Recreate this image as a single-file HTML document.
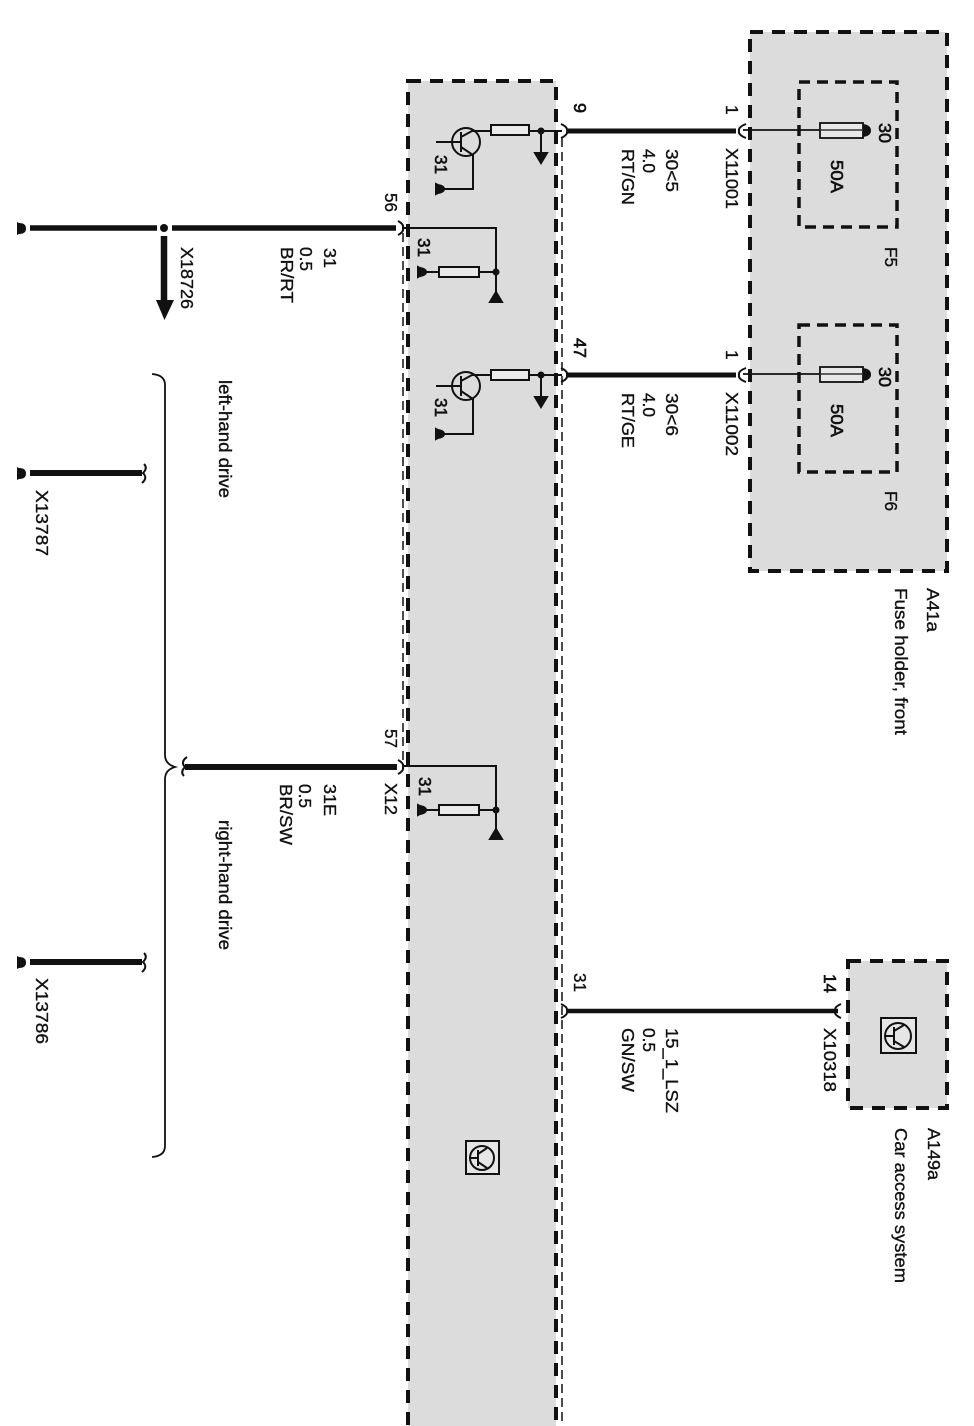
<!DOCTYPE html>
<html><head><meta charset="utf-8"><style>
html,body{margin:0;padding:0;background:#fff}
svg{display:block;filter:blur(.35px)}
text{font-family:"Liberation Sans",sans-serif;font-size:17.5px;fill:#111;stroke:#111;stroke-width:.35}
.b{stroke-width:.6}
</style></head><body>
<svg width="974" height="1426" viewBox="0 0 974 1426" xmlns="http://www.w3.org/2000/svg">
<rect width="974" height="1426" fill="#fff"/>
<!-- boxes -->
<g fill="#dcdcdc" stroke="#111" stroke-width="4" stroke-dasharray="13 9">
<rect x="750" y="32" width="197" height="539"/>
<rect x="408" y="81" width="148" height="1360"/>
<rect x="848" y="961" width="99" height="147"/>
</g>
<g fill="none" stroke="#111" stroke-width="3.5" stroke-dasharray="11 7">
<rect x="799" y="82" width="98" height="145"/>
<rect x="799" y="325" width="98" height="147"/>
</g>
<g stroke="#111" stroke-width="1.5" stroke-dasharray="9 5" fill="none">
<path d="M562 138V1426"/>
<path d="M403 233V760"/>
</g>
<!-- thick wires -->
<g stroke="#111" fill="none">
<path d="M567 131H736" stroke-width="5"/>
<path d="M567 375H736" stroke-width="5"/>
<path d="M30 228H157M172 228H396" stroke-width="5.5"/>
<path d="M30 473H142" stroke-width="6"/>
<path d="M30 962H142" stroke-width="6"/>
<path d="M185 767H397" stroke-width="6"/>
<path d="M567 1011H838" stroke-width="4.5"/>
<path d="M164 236V302" stroke-width="6.5"/>
</g>
<polygon points="156,300 174,300 164.500,320" fill="#111"/>
<circle cx="164" cy="228" r="4" fill="#111"/>
<!-- connector marks -->
<g stroke="#111" stroke-width="2" fill="none">
<path d="M746 124Q738 127 739 131Q738 135 746 138"/>
<path d="M746 368Q738 371 739 375Q738 379 746 382"/>
<path d="M561 124Q568 127 567 131Q568 135 561 138"/>
<path d="M561 368Q568 371 567 375Q568 379 561 382"/>
<path d="M398 221Q404 224 403 228Q404 232 398 235"/>
<path d="M398 760Q404 763 403 767Q404 771 398 774"/>
<path d="M561 1004Q568 1007 567 1011Q568 1015 561 1018"/>
<path d="M841 1004Q834 1007 835 1011Q834 1015 841 1018"/>
<path d="M144 464Q148 468 143 473Q148 478 142 483"/>
<path d="M144 953Q148 957 143 962Q148 967 142 972"/>
<path d="M187 757Q180 762 185 767Q180 772 184 776"/>
</g>
<!-- brace -->
<path d="M152 374Q165 375 165 385V755Q165 764 175 767Q165 770 165 779V1146Q165 1156 152 1157" fill="none" stroke="#111" stroke-width="1.800"/>
<!-- left terminals -->
<g fill="#111">
<path d="M17 222L19 223Q26 223 26 228.500Q26 234 19 234L17 235Z"/>
<path d="M17 467L19 468Q26 468 26 473.500Q26 479 19 479L17 480Z"/>
<path d="M17 956L19 957Q26 957 26 962.500Q26 968 19 968L17 969Z"/>
</g>
<!-- fuses -->
<g>
<path d="M743 130H820M743 374H820" stroke="#111" stroke-width="1.800" fill="none"/>
<rect x="820" y="123" width="43" height="15" fill="#e8e8e8" stroke="#111" stroke-width="1.800"/>
<rect x="820" y="367" width="43" height="15" fill="#e8e8e8" stroke="#111" stroke-width="1.800"/>
<path d="M820 130H863M820 374H863" stroke="#333" stroke-width="1.500"/>
<path d="M863 124Q871 125 871 130.500Q871 136 863 137Z M863 368Q871 369 871 374.500Q871 380 863 381Z" fill="#111"/>
</g>
<!-- transistor groups -->
<g fill="none" stroke="#111" stroke-width="2">
<circle cx="466" cy="142" r="14"/>
<path d="M436 142H461M461 132V152M461 137L472 131H491M461 147L473 155V189H442"/>
<rect x="491" y="125" width="38" height="10" fill="#eaeaea"/>
<path d="M529 131H562M541 131V153"/>
<circle cx="541" cy="131" r="2.500" fill="#111"/>
<path d="M535 153H547L541 163Z" fill="#111"/>
<path d="M436 184L438 185Q444 186 444 189Q444 192 438 193L436 194Z" fill="#111"/>
</g>
<g fill="none" stroke="#111" stroke-width="2">
<circle cx="466" cy="386" r="14"/>
<path d="M436 386H461M461 376V396M461 381L472 375H491M461 391L473 399V434H442"/>
<rect x="491" y="370" width="38" height="10" fill="#eaeaea"/>
<path d="M529 375H562M541 375V397"/>
<circle cx="541" cy="375" r="2.500" fill="#111"/>
<path d="M535 397H547L541 407Z" fill="#111"/>
<path d="M436 429L438 430Q444 431 444 434Q444 437 438 438L436 439Z" fill="#111"/>
</g>
<g fill="none" stroke="#111" stroke-width="2">
<path d="M404 228H496V293M424 272H439M479 272H496"/>
<rect x="439" y="267" width="40" height="10" fill="#eaeaea"/>
<circle cx="496" cy="272" r="2.500" fill="#111"/>
<path d="M496 292L502 302H490Z" fill="#111"/>
<path d="M418 267L420 268Q426 269 426 272Q426 275 420 276L418 277Z" fill="#111"/>
<path d="M404 766H496V832M424 810H439M479 810H496"/>
<rect x="439" y="805" width="40" height="10" fill="#eaeaea"/>
<circle cx="496" cy="810" r="2.500" fill="#111"/>
<path d="M496 829L502 839H490Z" fill="#111"/>
<path d="M418 805L420 806Q426 807 426 810Q426 813 420 814L418 815Z" fill="#111"/>
</g>
<!-- module icons -->
<g fill="none" stroke="#111" stroke-width="2">
<rect x="466" y="1141" width="33" height="33" fill="#e6e6e6"/>
<circle cx="482" cy="1158" r="12"/>
<path d="M470 1158H478M478 1150V1166M478 1154L487 1148M478 1162L487 1168"/>
<rect x="881" y="1018" width="35" height="35" fill="#e6e6e6"/>
<circle cx="898" cy="1036" r="13"/>
<path d="M885 1036H894M894 1027V1045M894 1031L904 1025M894 1041L904 1047"/>
</g>
<!-- labels: translate(baselineX, startY) -->
<g transform="translate(2,0)">
<text transform="translate(724,105) rotate(90)" textLength="8">1</text>
<text transform="translate(724,350) rotate(90)" textLength="8">1</text>
<text transform="translate(724,148) rotate(90)" textLength="61" lengthAdjust="spacingAndGlyphs">X11001</text>
<text transform="translate(724,392) rotate(90)" textLength="64" lengthAdjust="spacingAndGlyphs">X11002</text>
<text class="b" transform="translate(877,123) rotate(90)" textLength="20" lengthAdjust="spacingAndGlyphs">30</text>
<text class="b" transform="translate(877,367) rotate(90)" textLength="20" lengthAdjust="spacingAndGlyphs">30</text>
<text class="b" transform="translate(829,160) rotate(90)" textLength="33" lengthAdjust="spacingAndGlyphs">50A</text>
<text class="b" transform="translate(829,404) rotate(90)" textLength="33" lengthAdjust="spacingAndGlyphs">50A</text>
<text transform="translate(883,247) rotate(90)" textLength="20" lengthAdjust="spacingAndGlyphs">F5</text>
<text transform="translate(883,491) rotate(90)" textLength="20" lengthAdjust="spacingAndGlyphs">F6</text>
<text transform="translate(925,588) rotate(90)" textLength="44" lengthAdjust="spacingAndGlyphs">A41a</text>
<text transform="translate(893,588) rotate(90)" textLength="147" lengthAdjust="spacingAndGlyphs">Fuse holder, front</text>
<text class="b" transform="translate(572,103) rotate(90)" textLength="10" lengthAdjust="spacingAndGlyphs">9</text>
<text class="b" transform="translate(572,338) rotate(90)" textLength="20" lengthAdjust="spacingAndGlyphs">47</text>
<text transform="translate(664,149) rotate(90)" textLength="43" lengthAdjust="spacingAndGlyphs">30&lt;5</text>
<text transform="translate(641,149) rotate(90)" textLength="24" lengthAdjust="spacingAndGlyphs">4.0</text>
<text transform="translate(620,149) rotate(90)" textLength="56" lengthAdjust="spacingAndGlyphs">RT/GN</text>
<text transform="translate(664,393) rotate(90)" textLength="43" lengthAdjust="spacingAndGlyphs">30&lt;6</text>
<text transform="translate(641,393) rotate(90)" textLength="24" lengthAdjust="spacingAndGlyphs">4.0</text>
<text transform="translate(620,393) rotate(90)" textLength="55" lengthAdjust="spacingAndGlyphs">RT/GE</text>
<text class="b" transform="translate(433,155) rotate(90)" textLength="19" lengthAdjust="spacingAndGlyphs">31</text>
<text class="b" transform="translate(433,398) rotate(90)" textLength="19" lengthAdjust="spacingAndGlyphs">31</text>
<text class="b" transform="translate(416,238) rotate(90)" textLength="19" lengthAdjust="spacingAndGlyphs">31</text>
<text class="b" transform="translate(417,777) rotate(90)" textLength="19" lengthAdjust="spacingAndGlyphs">31</text>
<text transform="translate(383,193) rotate(90)" textLength="19" lengthAdjust="spacingAndGlyphs">56</text>
<text transform="translate(383,729) rotate(90)" textLength="19" lengthAdjust="spacingAndGlyphs">57</text>
<text transform="translate(383,783) rotate(90)" textLength="32" lengthAdjust="spacingAndGlyphs">X12</text>
<text transform="translate(322,248) rotate(90)" textLength="20" lengthAdjust="spacingAndGlyphs">31</text>
<text transform="translate(298,247) rotate(90)" textLength="24" lengthAdjust="spacingAndGlyphs">0.5</text>
<text transform="translate(279,247) rotate(90)" textLength="56" lengthAdjust="spacingAndGlyphs">BR/RT</text>
<text transform="translate(179,247) rotate(90)" textLength="62" lengthAdjust="spacingAndGlyphs">X18726</text>
<text transform="translate(322,784) rotate(90)" textLength="32" lengthAdjust="spacingAndGlyphs">31E</text>
<text transform="translate(297,784) rotate(90)" textLength="24" lengthAdjust="spacingAndGlyphs">0.5</text>
<text transform="translate(278,784) rotate(90)" textLength="61" lengthAdjust="spacingAndGlyphs">BR/SW</text>
<text transform="translate(217,380) rotate(90)" textLength="118" lengthAdjust="spacingAndGlyphs">left-hand drive</text>
<text transform="translate(217,820) rotate(90)" textLength="130" lengthAdjust="spacingAndGlyphs">right-hand drive</text>
<text transform="translate(34,490) rotate(90)" textLength="66" lengthAdjust="spacingAndGlyphs">X13787</text>
<text transform="translate(34,978) rotate(90)" textLength="66" lengthAdjust="spacingAndGlyphs">X13786</text>
<text transform="translate(572,973) rotate(90)" textLength="19" lengthAdjust="spacingAndGlyphs">31</text>
<text class="b" transform="translate(822,974) rotate(90)" textLength="19" lengthAdjust="spacingAndGlyphs">14</text>
<text transform="translate(822,1028) rotate(90)" textLength="64" lengthAdjust="spacingAndGlyphs">X10318</text>
<text transform="translate(664,1028) rotate(90)" textLength="85" lengthAdjust="spacingAndGlyphs">15_1_LSZ</text>
<text transform="translate(641,1028) rotate(90)" textLength="24" lengthAdjust="spacingAndGlyphs">0.5</text>
<text transform="translate(620,1028) rotate(90)" textLength="64" lengthAdjust="spacingAndGlyphs">GN/SW</text>
<text transform="translate(926,1128) rotate(90)" textLength="52" lengthAdjust="spacingAndGlyphs">A149a</text>
<text transform="translate(893,1128) rotate(90)" textLength="155" lengthAdjust="spacingAndGlyphs">Car access system</text>
</g>
</svg>
</body></html>
